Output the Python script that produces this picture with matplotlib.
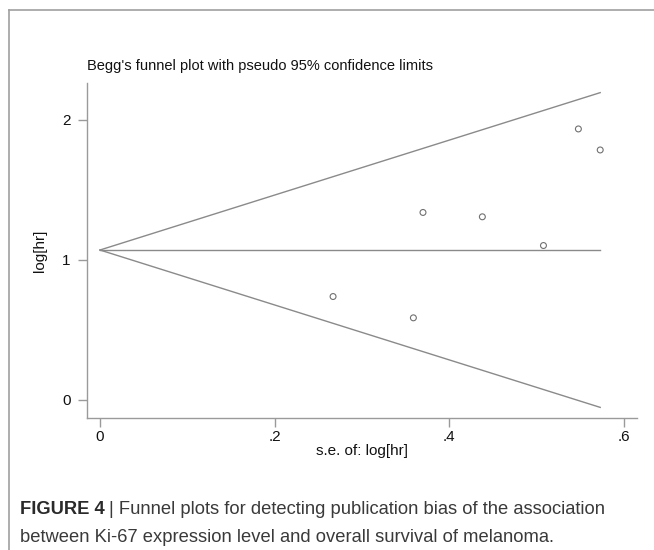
import matplotlib
matplotlib.use("Agg")
import matplotlib.pyplot as plt
from matplotlib.lines import Line2D
import numpy as np

# Data
se_values = [0.267, 0.359, 0.370, 0.438, 0.508, 0.548, 0.573]
loghr_values = [0.738, 0.586, 1.338, 1.307, 1.102, 1.934, 1.784]
pooled_estimate = 1.07
z_value = 1.96
x_ticks = [0, 0.2, 0.4, 0.6]
x_tick_labels = ["0", ".2", ".4", ".6"]
y_ticks = [0, 1, 2]
y_tick_labels = ["0", "1", "2"]

plt.rcParams['font.family'] = ['Liberation Sans', 'DejaVu Sans']

fig = plt.figure(figsize=(6.54, 5.5), dpi=100)
ax = fig.add_axes([86.7/654, 1-418.3/550, 550/654, (418.3-82.7)/550])

gray = '#8a8a8a'
se_max = max(se_values)
se_line = np.array([0.0, se_max])
ax.plot(se_line, pooled_estimate + z_value*se_line, color=gray, lw=1.0)
ax.plot(se_line, pooled_estimate - z_value*se_line, color=gray, lw=1.0)
ax.plot(se_line, [pooled_estimate, pooled_estimate], color=gray, lw=1.0)
ax.scatter(se_values, loghr_values, s=18, facecolors='none', edgecolors='#707070', linewidths=0.8, zorder=3)

ax.set_xlim(-0.0152, 0.6148)
ax.set_ylim(-0.131, 2.264)
ax.set_xticks(x_ticks)
ax.set_xticklabels(x_tick_labels)
ax.set_yticks(y_ticks)
ax.set_yticklabels(y_tick_labels)
for s in ['top', 'right']:
    ax.spines[s].set_visible(False)
for s in ['left', 'bottom']:
    ax.spines[s].set_color('#9a9a9a')
    ax.spines[s].set_linewidth(1.0)
ax.tick_params(axis='both', direction='out', length=6.5, width=1.0, color='#9a9a9a',
               labelsize=11, labelcolor='#111111')
ax.tick_params(axis='x', pad=2)
ax.tick_params(axis='y', pad=5)
ax.set_xlabel("s.e. of: log[hr]", fontsize=11, color='#111111', labelpad=0)
ax.set_ylabel("log[hr]", fontsize=11, color='#111111', labelpad=11)

fig.text(86.7/654, 1-66/550, "Begg's funnel plot with pseudo 95% confidence limits",
         fontsize=10.5, color='#111111', ha='left', va='center')

# outer border (top and left)
fig.add_artist(Line2D([9/654, 9/654], [0, 1-10/550], transform=fig.transFigure, color='#a0a0a0', lw=1.2))
fig.add_artist(Line2D([9/654, 1], [1-10/550, 1-10/550], transform=fig.transFigure, color='#a0a0a0', lw=1.2))

# caption
cap_x = 20/654
t1 = fig.text(cap_x, 1-509/550, "FIGURE 4", fontsize=13.2, fontweight='bold', color='#2a2a2a',
              ha='left', va='center')
fig.canvas.draw()
bb = t1.get_window_extent()
x_after = bb.x1/fig.bbox.width
fig.text(x_after + 0.006, 1-509/550, "| Funnel plots for detecting publication bias of the association",
         fontsize=13.2, color='#3a3a3a', ha='left', va='center')
fig.text(cap_x, 1-537/550, "between Ki-67 expression level and overall survival of melanoma.",
         fontsize=13.2, color='#3a3a3a', ha='left', va='center')

fig.savefig("out.png", dpi=100)
